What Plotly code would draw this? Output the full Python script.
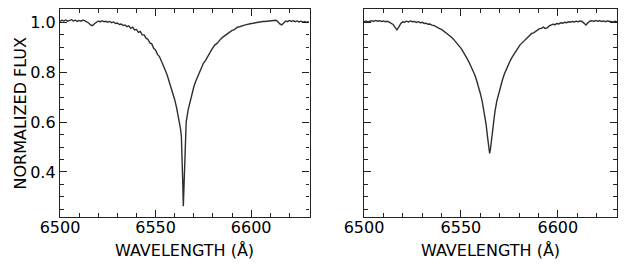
import plotly.graph_objects as go

# ---- Left panel spectrum ----
wave_left = [6500, 6501, 6502, 6503, 6504, 6505, 6506, 6507, 6508, 6509,
             6510, 6511, 6512, 6513, 6514, 6515, 6516, 6517, 6518, 6519,
             6520, 6521, 6522, 6523, 6524, 6525, 6526, 6527, 6528, 6529,
             6530, 6531, 6532, 6533, 6534, 6535, 6536, 6537, 6538, 6539,
             6540, 6541, 6542, 6543, 6544, 6545, 6546, 6547, 6548, 6549,
             6550, 6551, 6552, 6553, 6554, 6555, 6556, 6557, 6558, 6559,
             6560, 6561, 6562, 6563, 6563.5, 6563.9, 6564.2, 6564.5, 6564.8, 6565.1,
             6565.5, 6566, 6567, 6568, 6569, 6570, 6571, 6572, 6573, 6574,
             6575, 6576, 6577, 6578, 6579, 6580, 6581, 6582, 6583, 6584,
             6585, 6586, 6587, 6588, 6589, 6590, 6591, 6592, 6593, 6594,
             6595, 6596, 6597, 6598, 6599, 6600, 6601, 6602, 6603, 6604,
             6605, 6606, 6607, 6608, 6609, 6610, 6611, 6612, 6613, 6614,
             6615, 6616, 6617, 6618, 6619, 6620, 6621, 6622, 6623, 6624,
             6625, 6626, 6627, 6628, 6629, 6630]
flux_left = [1.004, 1.009, 1.006, 1.010, 1.005, 1.008, 1.011, 1.006, 1.009, 1.004,
             1.008, 1.005, 1.010, 1.006, 1.003, 0.998, 0.990, 0.987, 0.995, 1.002,
             1.006, 1.002, 1.007, 1.003, 1.005, 1.001, 1.004, 0.999, 1.002, 0.996,
             0.998, 0.992, 0.994, 0.988, 0.990, 0.983, 0.986, 0.976, 0.981, 0.970,
             0.972, 0.960, 0.964, 0.950, 0.950, 0.937, 0.932, 0.918, 0.914, 0.896,
             0.889, 0.872, 0.863, 0.845, 0.830, 0.809, 0.790, 0.766, 0.741, 0.715,
             0.690, 0.657, 0.618, 0.575, 0.540, 0.460, 0.360, 0.262, 0.340, 0.450,
             0.560, 0.600, 0.648, 0.683, 0.715, 0.742, 0.764, 0.784, 0.801, 0.817,
             0.836, 0.846, 0.862, 0.873, 0.887, 0.898, 0.910, 0.915, 0.926, 0.933,
             0.940, 0.946, 0.952, 0.958, 0.965, 0.968, 0.970, 0.976, 0.982, 0.983,
             0.984, 0.988, 0.990, 0.993, 0.994, 0.996, 0.997, 0.999, 0.999, 1.002,
             1.002, 1.004, 1.004, 1.005, 1.006, 1.007, 1.007, 1.009, 1.009, 1.003,
             0.994, 0.990, 0.998, 1.006, 1.003, 1.008, 1.004, 1.007, 1.003, 1.006,
             1.002, 1.005, 1.001, 1.004, 1.000, 1.004]

# ---- Right panel spectrum ----
wave_right = [6500, 6501, 6502, 6503, 6504, 6505, 6506, 6507, 6508, 6509,
              6510, 6511, 6512, 6513, 6514, 6515, 6516, 6517, 6518, 6519,
              6520, 6521, 6522, 6523, 6524, 6525, 6526, 6527, 6528, 6529,
              6530, 6531, 6532, 6533, 6534, 6535, 6536, 6537, 6538, 6539,
              6540, 6541, 6542, 6543, 6544, 6545, 6546, 6547, 6548, 6549,
              6550, 6551, 6552, 6553, 6554, 6555, 6556, 6557, 6558, 6559,
              6560, 6561, 6562, 6563, 6563.8, 6564.4, 6564.8, 6565.2, 6565.8, 6566.6,
              6567.5, 6568.5, 6569.5, 6570.5, 6571.5, 6572.5, 6573.5, 6574.5, 6575.5, 6576.5,
              6577.5, 6578.5, 6579.5, 6580.5, 6581.5, 6582.5, 6583.5, 6584.5, 6585.5, 6586.5,
              6587.5, 6588.5, 6589.5, 6590.5, 6591.5, 6592.5, 6593.5, 6594.5, 6595.5, 6596.5,
              6597.5, 6598.5, 6599.5, 6600.5, 6601.5, 6602.5, 6603.5, 6604.5, 6605.5, 6606.5,
              6607.5, 6608.5, 6609.5, 6610.5, 6611.5, 6612.5, 6613.5, 6614.5, 6615.5, 6616.5,
              6617.5, 6618.5, 6619.5, 6620.5, 6621.5, 6622.5, 6623.5, 6624.5, 6625.5, 6626.5,
              6627.5, 6628.5, 6629.5, 6630.5]
flux_right = [1.003, 1.006, 1.002, 1.005, 1.007, 1.004, 1.008, 1.005, 1.007, 1.004,
              1.006, 1.003, 1.005, 1.001, 0.998, 0.992, 0.980, 0.970, 0.982, 0.996,
              1.003, 1.001, 1.005, 1.002, 1.006, 1.003, 1.004, 1.000, 1.003, 0.999,
              1.001, 0.996, 0.997, 0.993, 0.994, 0.989, 0.988, 0.983, 0.981, 0.975,
              0.972, 0.966, 0.962, 0.955, 0.950, 0.942, 0.934, 0.926, 0.918, 0.906,
              0.897, 0.885, 0.872, 0.858, 0.843, 0.828, 0.812, 0.792, 0.770, 0.745,
              0.715, 0.682, 0.640, 0.590, 0.535, 0.490, 0.474, 0.490, 0.535, 0.590,
              0.640, 0.684, 0.716, 0.745, 0.772, 0.795, 0.815, 0.832, 0.848, 0.862,
              0.876, 0.888, 0.898, 0.910, 0.918, 0.928, 0.935, 0.944, 0.948, 0.956,
              0.958, 0.965, 0.968, 0.975, 0.976, 0.981, 0.976, 0.978, 0.986, 0.988,
              0.993, 0.991, 0.996, 0.994, 0.999, 0.997, 1.001, 0.999, 1.003, 1.001,
              1.004, 1.002, 1.005, 1.003, 1.006, 1.004, 0.998, 0.990, 0.999, 1.005,
              1.007, 1.004, 1.008, 1.005, 1.007, 1.004, 1.006, 1.003, 1.006, 1.004,
              1.005, 1.002, 1.005, 1.003]

x_ticks = [6500, 6550, 6600]
y_ticks = [0.4, 0.6, 0.8, 1.0]
x_title = "WAVELENGTH (Å)"
y_title = "NORMALIZED FLUX"

# The page body has an 8 px default margin, so the figure is drawn 8 px smaller
# and all target pixel positions are shifted by -8.
OFF = 8
W, H = 627 - OFF, 270 - OFF
FONT = "DejaVu Sans"
LINE = "#2e2e2e"

fig = go.Figure()
fig.add_trace(go.Scatter(x=wave_left, y=flux_left, mode="lines",
                         line=dict(color=LINE, width=1.4), xaxis="x", yaxis="y",
                         showlegend=False, hoverinfo="skip"))
fig.add_trace(go.Scatter(x=wave_right, y=flux_right, mode="lines",
                         line=dict(color=LINE, width=1.4), xaxis="x2", yaxis="y2",
                         showlegend=False, hoverinfo="skip"))

def xax(domain, anchor):
    return dict(domain=domain, anchor=anchor, range=[6500, 6630.5],
                tickmode="array", tickvals=x_ticks, ticktext=[str(v) for v in x_ticks],
                ticks="inside", ticklen=7, tickwidth=1.2, tickcolor="#222",
                mirror="allticks", showline=True, linecolor="#222", linewidth=1.3,
                showgrid=False, zeroline=False, ticklabelstandoff=-4,
                minor=dict(dtick=10, tick0=6500, ticks="inside", ticklen=3.5,
                           tickwidth=1, tickcolor="#222", showgrid=False),
                tickfont=dict(family=FONT, size=16, color="black"))

def yax(domain, anchor, labels):
    return dict(domain=domain, anchor=anchor, range=[0.219, 1.054],
                tickmode="array", tickvals=y_ticks,
                ticktext=[f"{v:.1f}" for v in y_ticks],
                showticklabels=labels,
                ticks="inside", ticklen=7, tickwidth=1.2, tickcolor="#222",
                mirror="allticks", showline=True, linecolor="#222", linewidth=1.3,
                showgrid=False, zeroline=False,
                minor=dict(dtick=0.05, tick0=0, ticks="inside", ticklen=3.5,
                           tickwidth=1, tickcolor="#222", showgrid=False),
                tickfont=dict(family=FONT, size=16, color="black"))

xl = ((60 - OFF) / W, (309.5 - OFF) / W)
xr = ((364 - OFF) / W, (617 - OFF) / W)
top, bottom = 9.3 - OFF, 217 - OFF

fig.update_layout(
    width=W, height=H,
    margin=dict(l=0, r=0, t=top, b=H - bottom, autoexpand=False),
    paper_bgcolor="white", plot_bgcolor="white",
    xaxis=xax(xl, "y"),
    yaxis=yax([0, 1], "x", True),
    xaxis2=xax(xr, "y2"),
    yaxis2=yax([0, 1], "x2", False),
    font=dict(family=FONT, size=16, color="black"),
)

plot_h = bottom - top
for dom in (xl, xr):
    fig.add_annotation(text=x_title, xref="paper", yref="paper",
                       x=(dom[0] + dom[1]) / 2, y=-(250 - 217) / plot_h,
                       xanchor="center", yanchor="middle", showarrow=False,
                       font=dict(family=FONT, size=16, color="black"))
fig.add_annotation(text=y_title, xref="paper", yref="paper",
                   x=0, y=0.5, textangle=-90,
                   xanchor="left", yanchor="middle", showarrow=False,
                   font=dict(family=FONT, size=16, color="black"))

fig.write_html("out.html")
